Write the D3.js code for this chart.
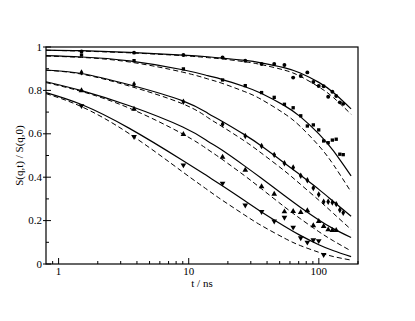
<!DOCTYPE html>
<html>
<head>
<meta charset="utf-8">
<title>S(q,t) / S(q,0)</title>
<style>
  body { margin: 0; background: #fff; }
  text { font-family: "Liberation Serif", "DejaVu Serif", serif; fill: #000; }
</style>
</head>
<body>
<svg width="415" height="321"></svg>
<script src="https://d3js.org/d3.v7.min.js"></script>
<script>
// fit curves, sampled on a common time grid (ns)
const tFit = [0.8, 1.5, 3.5, 9, 14, 18, 27, 36, 54, 72, 100, 130, 177];
const solid1 = [0.986, 0.983, 0.975, 0.963, 0.955, 0.949, 0.938, 0.927, 0.905, 0.880, 0.837, 0.789, 0.715];
const dash1  = [0.985, 0.981, 0.973, 0.960, 0.951, 0.945, 0.932, 0.919, 0.894, 0.865, 0.816, 0.766, 0.690];
const solid2 = [0.960, 0.954, 0.936, 0.895, 0.868, 0.851, 0.817, 0.787, 0.731, 0.679, 0.600, 0.520, 0.406];
const dash2  = [0.958, 0.952, 0.931, 0.884, 0.853, 0.833, 0.794, 0.759, 0.694, 0.634, 0.545, 0.456, 0.332];
const solid3 = [0.894, 0.878, 0.826, 0.752, 0.695, 0.658, 0.595, 0.545, 0.467, 0.410, 0.344, 0.287, 0.220];
const dash3  = [0.893, 0.875, 0.820, 0.738, 0.675, 0.634, 0.566, 0.512, 0.431, 0.368, 0.294, 0.232, 0.159];
const solid4 = [0.840, 0.799, 0.729, 0.631, 0.566, 0.525, 0.451, 0.396, 0.317, 0.262, 0.203, 0.162, 0.122];
const dash4  = [0.836, 0.795, 0.718, 0.599, 0.528, 0.483, 0.406, 0.348, 0.265, 0.209, 0.149, 0.106, 0.060];
const solid5 = [0.790, 0.735, 0.625, 0.477, 0.404, 0.362, 0.291, 0.241, 0.175, 0.132, 0.089, 0.061, 0.034];
const dash5  = [0.785, 0.725, 0.600, 0.424, 0.341, 0.295, 0.225, 0.178, 0.120, 0.085, 0.054, 0.034, 0.018];

// measured points
const tData = [1.5, 3.8, 9.1, 18.2, 27.2, 36.3, 45.4, 54.4, 63.5, 72.6, 81.6, 90.7, 99.8, 108.9, 118, 127, 136, 145, 154];
const circles   = [0.979, 0.974, 0.963, 0.952, 0.937, 0.922, 0.922, 0.917, 0.859, 0.866, 0.883, 0.839, 0.82, 0.819, 0.771, 0.794, 0.774, 0.745, 0.738];
const squares   = [0.963, 0.937, 0.899, 0.848, 0.822, 0.79, 0.768, 0.736, 0.72, 0.683, 0.636, 0.641, 0.618, 0.567, 0.559, 0.571, 0.575, 0.506, 0.504];
const diamonds  = [0.883, 0.828, 0.748, 0.644, 0.59, 0.544, 0.503, 0.464, 0.445, 0.407, 0.386, 0.35, 0.32, 0.287, 0.287, 0.283, 0.276, 0.249, 0.236];
const trisUp    = [0.799, 0.714, 0.598, 0.493, 0.433, 0.357, 0.322, 0.241, 0.243, 0.238, 0.246, 0.177, 0.197, 0.174, 0.158, 0.155, 0.155];
const trisDown  = [0.729, 0.587, 0.456, 0.372, 0.271, 0.241, 0.197, 0.215, 0.169, 0.12, 0.1, 0.111, 0.107, 0.043];

const xTicks = [1, 10, 100];
const yTicks = [0, 0.2, 0.4, 0.6, 0.8, 1];

const svg = d3.select('svg');
const m = { left: 46, right: 358, top: 47, bottom: 264 };

const x = d3.scaleLog().domain([0.8, 200]).range([m.left, m.right]);
const y = d3.scaleLinear().domain([0, 1]).range([m.bottom, m.top]);

// curves
const line = d3.line().x(d => x(d[0])).y(d => y(d[1])).curve(d3.curveNatural);
const fits = [[solid1, false], [dash1, true], [solid2, false], [dash2, true],
              [solid3, false], [dash3, true], [solid4, false], [dash4, true],
              [solid5, false], [dash5, true]];
fits.forEach(([vals, dashed]) => {
  svg.append('path')
    .attr('d', line(tFit.map((t, i) => [t, vals[i]])))
    .attr('fill', 'none')
    .attr('stroke', '#000')
    .attr('stroke-width', dashed ? 1 : 1.2)
    .attr('stroke-dasharray', dashed ? '5,3' : null);
});

// symbols
const sets = [
  [circles, d3.symbolCircle, 12, 0],
  [squares, d3.symbolSquare, 11, 0],
  [diamonds, d3.symbolDiamond, 12, 0],
  [trisUp, d3.symbolTriangle, 14, 0],
  [trisDown, d3.symbolTriangle, 14, 180]
];
sets.forEach(([vals, type, size, rot]) => {
  svg.append('g').selectAll('path')
    .data(vals.map((v, i) => [tData[i], v]))
    .join('path')
    .attr('d', d3.symbol().type(type).size(size))
    .attr('transform', d => `translate(${x(d[0])},${y(d[1])}) rotate(${rot})`)
    .attr('fill', '#000');
});

// frame
svg.append('rect')
  .attr('x', m.left).attr('y', m.top)
  .attr('width', m.right - m.left).attr('height', m.bottom - m.top)
  .attr('fill', 'none').attr('stroke', '#000').attr('stroke-width', 1.2);

// x axis ticks (inside)
const xMinor = [0.9];
[1, 10, 100].forEach(d => { for (let k = 2; k < 10; k++) { if (d * k <= 200) xMinor.push(d * k); } });
svg.append('g').selectAll('line').data(xMinor).join('line')
  .attr('x1', d => x(d)).attr('x2', d => x(d))
  .attr('y1', m.bottom).attr('y2', m.bottom - 3)
  .attr('stroke', '#000').attr('stroke-width', 1);
svg.append('g').selectAll('line').data(xTicks).join('line')
  .attr('x1', d => x(d)).attr('x2', d => x(d))
  .attr('y1', m.bottom).attr('y2', m.bottom - 6)
  .attr('stroke', '#000').attr('stroke-width', 1);
svg.append('g').selectAll('text').data(xTicks).join('text')
  .attr('x', d => x(d)).attr('y', m.bottom + 11)
  .attr('text-anchor', 'middle').attr('font-size', 11)
  .text(d => d);

// y axis ticks
const yMinor = [0.1, 0.3, 0.5, 0.7, 0.9];
svg.append('g').selectAll('line').data(yMinor).join('line')
  .attr('x1', m.left).attr('x2', m.left + 3)
  .attr('y1', d => y(d)).attr('y2', d => y(d))
  .attr('stroke', '#000').attr('stroke-width', 1);
svg.append('g').selectAll('line').data(yTicks).join('line')
  .attr('x1', m.left - 3).attr('x2', m.left + 5)
  .attr('y1', d => y(d)).attr('y2', d => y(d))
  .attr('stroke', '#000').attr('stroke-width', 1);
svg.append('g').selectAll('text').data(yTicks).join('text')
  .attr('x', m.left - 4).attr('y', d => y(d) + 3.5)
  .attr('text-anchor', 'end').attr('font-size', 11)
  .text(d => d);

// titles
svg.append('text')
  .attr('x', (m.left + m.right) / 2).attr('y', 287)
  .attr('text-anchor', 'middle').attr('font-size', 11)
  .text('t / ns');
svg.append('text')
  .attr('transform', `translate(23,${(m.top + m.bottom) / 2}) rotate(-90)`)
  .attr('text-anchor', 'middle').attr('font-size', 11)
  .text('S(q,t) / S(q,0)');
</script>
</body>
</html>
